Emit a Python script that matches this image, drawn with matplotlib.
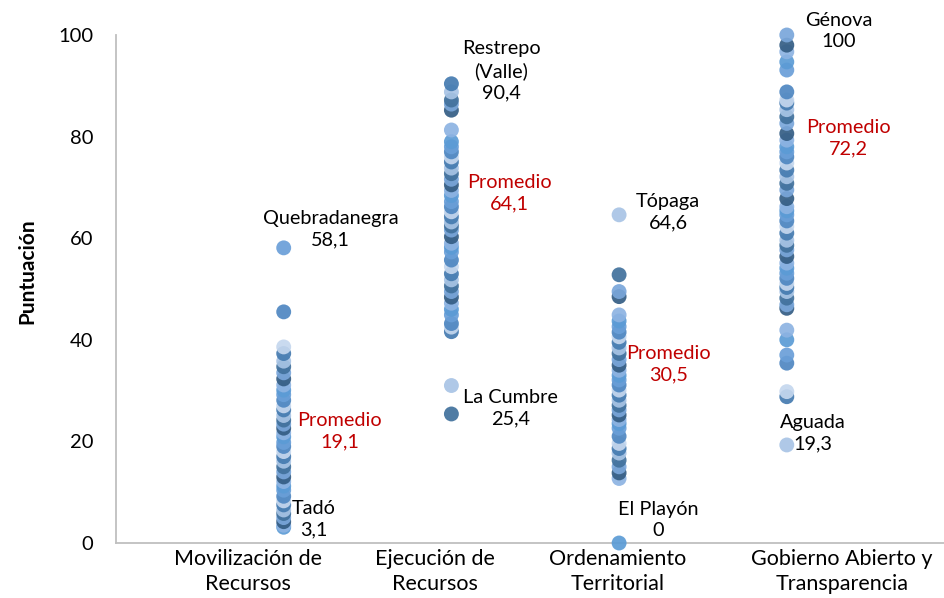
import matplotlib.pyplot as plt
from matplotlib.transforms import ScaledTranslation

plt.rcParams['font.family'] = ['Lato', 'DejaVu Sans']

categories = ["Movilización de\nRecursos", "Ejecución de\nRecursos",
              "Ordenamiento\nTerritorial", "Gobierno Abierto y\nTransparencia"]

movilizacion = [3.1, 3.5, 4.2, 5.0, 5.8, 6.5, 7.5, 8.3, 9.2, 10.4, 11.2, 12.1,
                13.0, 14.0, 15.0, 16.1, 17.0, 18.0, 19.0, 19.8, 20.9, 21.7,
                22.6, 23.4, 24.2, 25.1, 26.2, 27.0, 28.1, 29.2, 30.1, 31.1,
                32.3, 33.5, 34.7, 35.8, 37.3, 38.6, 45.5, 58.1]
ejecucion = [25.4, 31.0, 41.6, 42.5, 43.2, 44.9, 46.0, 47.2, 48.4, 49.5, 50.6,
             51.8, 53.0, 54.4, 55.7, 57.3, 58.2, 59.0, 60.3, 61.6, 62.4, 63.2,
             64.2, 65.2, 66.2, 67.2, 68.4, 69.4, 70.5, 71.6, 72.7, 73.8, 75.0,
             76.0, 77.0, 78.0, 79.0, 81.3, 85.2, 86.4, 87.2, 88.8, 90.4]
ordenamiento = [0, 12.7, 13.8, 15.0, 16.3, 17.7, 18.6, 19.6, 21.0, 22.6, 23.5,
                24.3, 25.2, 26.2, 27.1, 28.1, 29.1, 30.1, 31.1, 32.1, 33.0,
                34.0, 35.0, 36.1, 37.3, 38.4, 39.5, 40.6, 41.5, 42.6, 43.7,
                44.9, 48.5, 49.5, 52.8, 64.6]
gobierno = [19.3, 28.8, 29.8, 35.4, 37.0, 40.0, 41.9, 46.2, 46.9, 48.2, 49.5,
            50.3, 51.1, 52.1, 53.1, 54.1, 55.1, 56.4, 57.7, 58.6, 59.6, 61.0,
            62.3, 63.4, 64.6, 65.4, 66.2, 67.8, 69.5, 70.8, 72.1, 73.4, 74.8,
            76.0, 77.0, 78.0, 79.3, 80.6, 82.6, 83.9, 85.3, 86.6, 87.2, 88.8,
            93.1, 94.7, 96.7, 98.0, 100]
series = [movilizacion, ejecucion, ordenamiento, gobierno]
promedios = [19.1, 64.1, 30.5, 72.2]

# municipio, categoría (1-4), valor, desplazamiento del texto en px
etiquetas = [
    ("Quebradanegra", 1, 58.1, 47, 19),
    ("Tadó", 1, 3.1, 30, 8),
    ("Restrepo\n(Valle)", 2, 90.4, 50, 13),
    ("La Cumbre", 2, 25.4, 59, 6),
    ("Tópaga", 3, 64.6, 49, 3),
    ("El Playón", 3, 0, 39, 23),
    ("Génova", 4, 100, 52, 4),
    ("Aguada", 4, 19.3, 26, 12),
]
prom_offsets = [(56, 15), (58, 24), (49, 24), (62, 38)]

shades = ["#5b9bd5", "#c5d7ee", "#41719c", "#8db3e2", "#4f87c1", "#a8c4e5",
          "#345d84", "#6a9fd8", "#457bb0", "#7aa6da"]
shade_start = [0, 2, 0, 5]

fig = plt.figure(figsize=(9.45, 5.98), dpi=100)
ax = fig.add_axes([116 / 945, 55 / 598, 1 - 116 / 945, 508 / 598])

for i, vals in enumerate(series):
    cols = [shades[(j * 3 + shade_start[i]) % len(shades)] for j in range(len(vals))]
    ax.scatter([i + 1] * len(vals), vals, s=115, c=cols, alpha=0.92,
               edgecolors="none", zorder=3, clip_on=False)

def fmt(v):
    return f"{v:g}".replace(".", ",")

for name, cat, val, dx, dy in etiquetas:
    ax.annotate(f"{name}\n{fmt(val)}", xy=(cat, val), xytext=(dx * 0.72, dy * 0.72),
                textcoords="offset points", ha="center", va="center",
                fontsize=14.3, linespacing=1.32, color="black")

for i, (p, (dx, dy)) in enumerate(zip(promedios, prom_offsets)):
    ax.annotate(f"Promedio\n{fmt(p)}", xy=(i + 1, p), xytext=(dx * 0.72, dy * 0.72),
                textcoords="offset points", ha="center", va="center",
                fontsize=14.3, linespacing=1.32, color="#c00000")

ax.set_xlim(0, 829 / 167.7)
ax.set_ylim(0, 100)
ax.set_yticks(range(0, 101, 20))
ax.tick_params(axis="y", length=0, pad=16.5, labelsize=14.5)
ax.set_xticks([1, 2, 3, 4])
ax.set_xticklabels(categories, fontsize=15.5, linespacing=1.35)
ax.tick_params(axis="x", length=0, pad=4)
label_shift = [-36, -16, -1, 55]
for lab, sh in zip(ax.get_xticklabels(), label_shift):
    lab.set_transform(lab.get_transform() + ScaledTranslation(sh / 100, 0, fig.dpi_scale_trans))

ax.set_ylabel("Puntuación", fontsize=15, fontweight="bold")
ax.yaxis.set_label_coords(-0.095, 0.535)

for side in ["top", "right"]:
    ax.spines[side].set_visible(False)
for side in ["left", "bottom"]:
    ax.spines[side].set_color("#bfbfbf")
    ax.spines[side].set_linewidth(1.3)

fig.savefig("out.png", dpi=100)
